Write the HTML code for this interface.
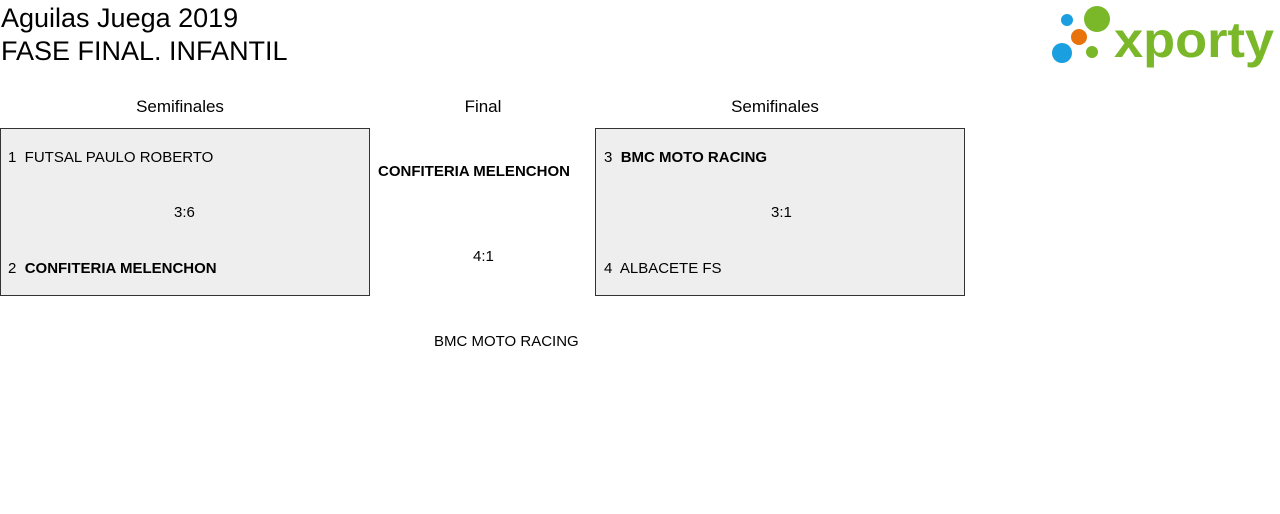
<!DOCTYPE html>
<html><head><meta charset="utf-8"><style>
body{margin:0;width:1280px;height:514px;background:#fff;position:relative;font-family:"Liberation Sans",sans-serif;color:#000;overflow:hidden}
.a{position:absolute;white-space:nowrap}
.t{font-size:27px;left:1px}
.h{font-size:17px;text-align:center}
.box{position:absolute;background:#eee;border:1px solid #333;box-sizing:border-box}
.s{font-size:15px}
.b{font-weight:bold}
</style></head><body>
<div class="a t" style="top:3px">Aguilas Juega 2019</div>
<div class="a t" style="top:36px">FASE FINAL. INFANTIL</div>

<svg class="a" style="left:1040px;top:0" width="240" height="70">
<circle cx="27" cy="20" r="6" fill="#1a9fe0"/>
<circle cx="57" cy="19" r="13" fill="#7ab829"/>
<circle cx="39" cy="37" r="8" fill="#e8720c"/>
<circle cx="22" cy="53" r="10" fill="#1a9fe0"/>
<circle cx="52" cy="52" r="6" fill="#7ab829"/>
<text x="74" y="57" font-family="Liberation Sans, sans-serif" font-weight="bold" font-size="50" fill="#7ab829" textLength="160" lengthAdjust="spacingAndGlyphs">xporty</text>
</svg>

<div class="a h" style="left:-5px;width:370px;top:97px">Semifinales</div>
<div class="a h" style="left:383px;width:200px;top:97px">Final</div>
<div class="a h" style="left:590px;width:370px;top:97px">Semifinales</div>

<div class="box" style="left:0;top:128px;width:370px;height:168px"></div>
<div class="a s" style="left:8px;top:149px">1&nbsp; FUTSAL PAULO ROBERTO</div>
<div class="a s" style="left:174px;top:204px">3:6</div>
<div class="a s" style="left:8px;top:260px">2&nbsp; <span class="b">CONFITERIA MELENCHON</span></div>

<div class="box" style="left:595px;top:128px;width:370px;height:168px"></div>
<div class="a s" style="left:604px;top:149px">3&nbsp; <span class="b">BMC MOTO RACING</span></div>
<div class="a s" style="left:771px;top:204px">3:1</div>
<div class="a s" style="left:604px;top:260px">4&nbsp; ALBACETE FS</div>

<div class="a s b" style="left:378px;top:163px">CONFITERIA MELENCHON</div>
<div class="a s" style="left:473px;top:248px">4:1</div>
<div class="a s" style="left:434px;top:333px">BMC MOTO RACING</div>
</body></html>
